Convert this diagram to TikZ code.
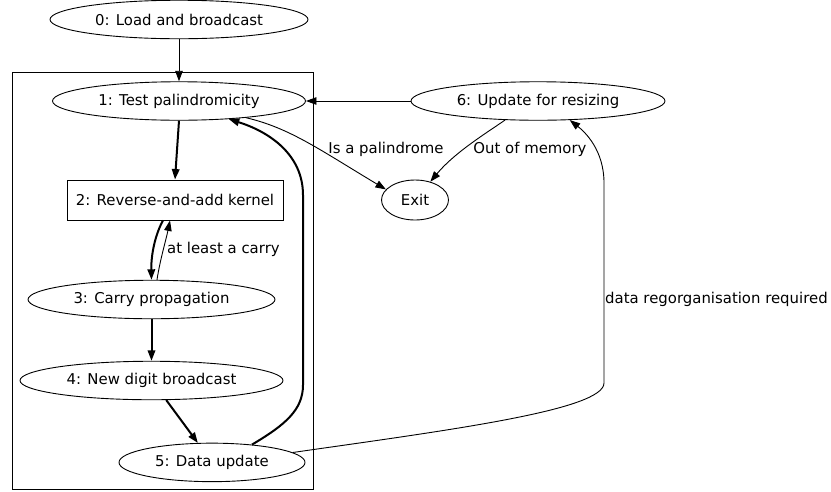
\documentclass[tikz,border=0pt]{standalone}
\usepackage{fontspec}
\setmainfont{DejaVu Sans}
\usetikzlibrary{shapes.geometric,arrows.meta}
\begin{document}
\begin{tikzpicture}[x=1pt,y=-1pt,
  font=\fontsize{14.9}{17.9}\selectfont,
  state/.style={ellipse,draw,line width=0.9pt,inner sep=0pt,minimum height=38.5pt},
  kbox/.style={rectangle,draw,line width=0.9pt,inner sep=0pt,minimum width=216pt,minimum height=40pt},
  thinedge/.style={line width=0.9pt,-{Triangle[length=10.5pt,width=7.5pt]}},
  thickedge/.style={line width=2pt,-{Triangle[length=10.5pt,width=7.5pt]}},
  lbl/.style={inner sep=0pt}
]
\useasboundingbox (0,0) rectangle (831,491);
% cluster
\draw[line width=0.9pt] (12,72) rectangle (313,489);
% nodes
\node[state,minimum width=258pt] (n0) at (179,19.5) {0: Load and broadcast};
\node[state,minimum width=253pt] (n1) at (179,101) {1: Test palindromicity};
\node[kbox] (n2) at (175,200) {2: Reverse-and-add kernel};
\node[state,minimum width=247pt] (n3) at (151.5,299.5) {3: Carry propagation};
\node[state,minimum width=263pt] (n4) at (151.5,380.5) {4: New digit broadcast};
\node[state,minimum width=186pt] (n5) at (212,462.4) {5: Data update};
\node[state,minimum width=254pt] (n6) at (538,101) {6: Update for resizing};
\node[state,minimum width=67pt,minimum height=40pt] (ex) at (415,200) {Exit};
% edges
\draw[thinedge] (n0) -- (n1);
\draw[thickedge] (n1.south) -- (n2.north);
\draw[thickedge] ([xshift=-12pt]n2.south) .. controls (155,235) and (151,255) .. (n3.north);
\draw[thinedge] ([xshift=5.5pt]n3.north) .. controls (160,260) and (166,240) .. ([xshift=-5pt]n2.south);
\node[lbl,anchor=west] (l32) at (167,249) {at least a carry};
\draw[thickedge] (n3.south) -- (n4.north);
\draw[thickedge] (n4.-53) -- (n5.126);
\draw[thickedge] (n5.24) .. controls (285,425) and (303,410) .. (303,385) -- (303,195) .. controls (303,155) and (270,132) .. (n1.-20);
\draw[thinedge] (n6.west) -- (n1.east);
\draw[thinedge] (n1.-14) .. controls (290,128) and (320,150) .. (ex.160);
\node[lbl] (l1x) at (386,149) {Is a palindrome};
\draw[thinedge] (n6.-150) .. controls (488,132) and (455,152) .. (ex.50);
\node[lbl] (l6x) at (530,149) {Out of memory};
\draw[thinedge] (n5.7) .. controls (450,430) and (604,410) .. (604,383) -- (604,183) .. controls (604,150) and (585,132) .. (n6.-31);
\node[lbl,anchor=west] (l56) at (605,299) {data regorganisation required};
\end{tikzpicture}
\end{document}
